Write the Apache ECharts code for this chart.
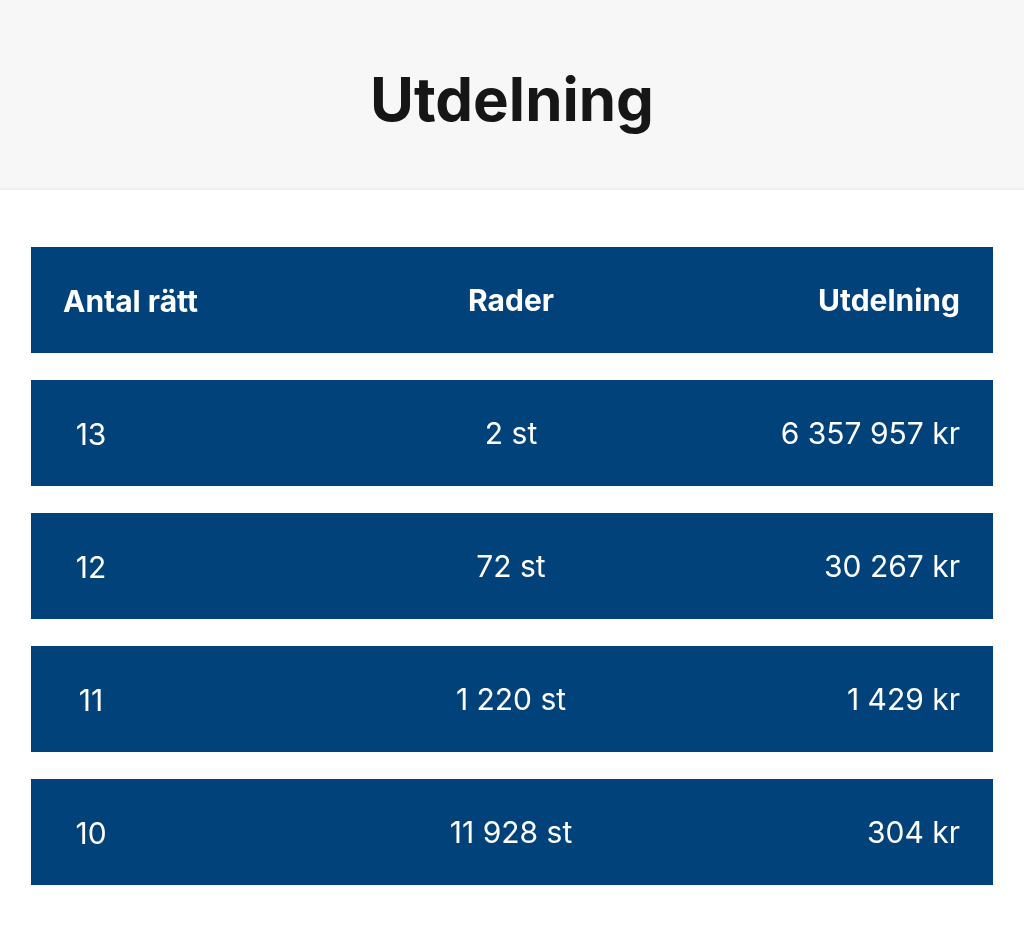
<!DOCTYPE html>
<html><head><meta charset="utf-8">
<script src="https://cdn.jsdelivr.net/npm/echarts@6/dist/echarts.min.js"></script>
<style>html,body{margin:0;padding:0;background:#fff}#main{width:1024px;height:934px}</style>
</head><body><div id="main"></div>
<script>
var headers = ['Antal rätt', 'Rader', 'Utdelning'];
var antalRatt = ['13', '12', '11', '10'];
var rader = ['2 st', '72 st', '1 220 st', '11 928 st'];
var utdelning = ['6 357 957 kr', '30 267 kr', '1 429 kr', '304 kr'];

(function() {
    var chart = echarts.init(document.getElementById('main'));
    var font = 'Inter, Roboto, sans-serif';
    var blue = '#02427a';
    var els = [
        {type: 'rect', shape: {x: 0, y: 0, width: 1024, height: 188}, style: {fill: '#f7f7f8'}},
        {type: 'rect', shape: {x: 0, y: 188, width: 1024, height: 2}, style: {fill: '#efeff1'}},
        {type: 'text', x: 512, y: 103, style: {text: 'Utdelning', font: 'bold 60px ' + font, fill: '#161616', align: 'center', verticalAlign: 'middle'}}
    ];
    function row(y, cells, bold) {
        els.push({type: 'rect', shape: {x: 31, y: y, width: 962, height: 106}, style: {fill: blue}});
        var f = (bold ? 'bold ' : '') + '30px ' + font;
        els.push({type: 'text', x: bold ? 63 : 91, y: y + 56, style: {text: cells[0], font: f, fill: '#fff', align: bold ? 'left' : 'center', verticalAlign: 'middle'}});
        els.push({type: 'text', x: 511, y: y + 55, style: {text: cells[1], font: f, fill: '#fff', align: 'center', verticalAlign: 'middle'}});
        els.push({type: 'text', x: 960, y: y + 55, style: {text: cells[2], font: f, fill: '#fff', align: 'right', verticalAlign: 'middle'}});
    }
    row(247, headers, true);
    for (var i = 0; i < antalRatt.length; i++) {
        row(380 + i * 133, [antalRatt[i], rader[i], utdelning[i]], false);
    }
    chart.setOption({backgroundColor: '#fff', graphic: els});
})();
</script></body></html>
